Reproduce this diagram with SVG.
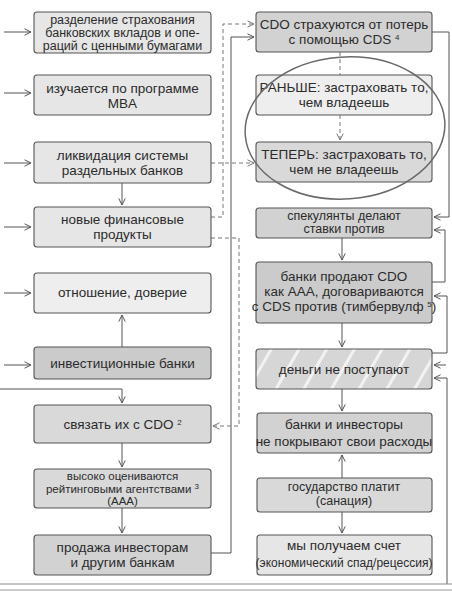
<svg xmlns="http://www.w3.org/2000/svg" width="452" height="596" viewBox="0 0 452 596">
<defs>
<style>
.box{stroke:#555;stroke-width:1.1}
.l1{fill:#eeeeee}.l2{fill:#e6e6e6}.m1{fill:#d9d9d9}.m2{fill:#d2d2d2}.d1{fill:#cbcbcb}
text{font-family:"Liberation Sans Narrow","Liberation Sans",Arial,sans-serif;font-size:13.5px;fill:#2b2b2b;text-anchor:middle}
.s3{font-size:12.5px}
.sm{font-size:12px}
.s8{font-size:11.5px}
.sup{font-size:8px}
.c{fill:none;stroke:#555;stroke-width:1}
.dsh{fill:none;stroke:#777;stroke-width:1;stroke-dasharray:4 3}
</style>
<marker id="ah" viewBox="0 0 8 8" refX="7.5" refY="4" markerWidth="8" markerHeight="8" markerUnits="userSpaceOnUse" orient="auto">
<path d="M1,0.8 L7.5,4 L1,7.2" fill="none" stroke="#555" stroke-width="1"/>
</marker>
<marker id="ahd" viewBox="0 0 8 8" refX="7.5" refY="4" markerWidth="8" markerHeight="8" markerUnits="userSpaceOnUse" orient="auto">
<path d="M1,0.8 L7.5,4 L1,7.2" fill="none" stroke="#777" stroke-width="1"/>
</marker>
<pattern id="hatch" width="24" height="24" patternUnits="userSpaceOnUse" patternTransform="rotate(30)">
<rect width="24" height="24" fill="#d6d6d6"/>
<rect x="0" y="0" width="3" height="24" fill="#f2f2f2"/>
</pattern>
</defs>
<rect width="452" height="596" fill="#ffffff"/>

<g id="connectors">
<line class="c" x1="4" y1="32" x2="31" y2="32" marker-end="url(#ah)"/>
<line class="c" x1="4" y1="93" x2="31" y2="93" marker-end="url(#ah)"/>
<line class="c" x1="4" y1="163" x2="31" y2="163" marker-end="url(#ah)"/>
<line class="c" x1="4" y1="227" x2="31" y2="227" marker-end="url(#ah)"/>
<line class="c" x1="4" y1="293" x2="31" y2="293" marker-end="url(#ah)"/>
<line class="c" x1="4" y1="365" x2="31" y2="365" marker-end="url(#ah)"/>
<line class="c" x1="122" y1="183" x2="122" y2="205" marker-end="url(#ah)"/>
<line class="c" x1="122" y1="347" x2="122" y2="315" marker-end="url(#ah)"/>
<path class="c" d="M0,389 H122 V403" marker-end="url(#ah)"/>
<line class="c" x1="122" y1="443" x2="122" y2="467" marker-end="url(#ah)"/>
<line class="c" x1="122" y1="508" x2="122" y2="533" marker-end="url(#ah)"/>
<path class="dsh" d="M211,217 H223 V24 H254" marker-end="url(#ahd)"/>
<path class="c" d="M211,553 H231 V37 H254" marker-end="url(#ah)"/>
<path class="dsh" d="M211,163 H254" marker-end="url(#ahd)"/>
<path class="dsh" d="M211,238 H239 V426 H213" marker-end="url(#ahd)"/>
<line class="dsh" x1="340" y1="52" x2="340" y2="75"/>
<line class="dsh" x1="340" y1="115" x2="340" y2="140" marker-end="url(#ahd)"/>
<line class="c" x1="342" y1="238" x2="342" y2="260" marker-end="url(#ah)"/>
<line class="c" x1="342" y1="323" x2="342" y2="347" marker-end="url(#ah)"/>
<line class="c" x1="342" y1="389" x2="342" y2="411" marker-end="url(#ah)"/>
<line class="c" x1="342" y1="478" x2="342" y2="455" marker-end="url(#ah)"/>
<line class="c" x1="342" y1="512" x2="342" y2="533" marker-end="url(#ah)"/>
<path class="c" d="M432,32 H449 V217 H434" marker-end="url(#ah)"/>
<path class="c" d="M432,282 H445 V230 H434" marker-end="url(#ah)"/>
<path class="c" d="M432,353 H447 V296 H434" marker-end="url(#ah)"/>
<line class="c" x1="446" y1="365" x2="434" y2="365" marker-end="url(#ah)"/>
<path class="c" d="M447,584 V378 H434" marker-end="url(#ah)"/>
<line x1="0" y1="584" x2="452" y2="584" stroke="#888" stroke-width="1"/>
<line x1="0" y1="590" x2="452" y2="590" stroke="#999" stroke-width="1"/>
</g>

<g id="n1"><rect class="box l2" x="34" y="12" width="177" height="41" rx="3"/>
<text class="s3" x="122.5" y="24">разделение страхования</text>
<text class="s3" x="122.5" y="37">банковских вкладов и опе-</text>
<text class="s3" x="122.5" y="50">раций с ценными бумагами</text></g>
<g id="n2"><rect class="box l2" x="34" y="75" width="177" height="40" rx="3"/>
<text x="122.5" y="93">изучается по программе</text>
<text x="122.5" y="108">MBA</text></g>
<g id="n3"><rect class="box l2" x="34" y="142" width="177" height="41" rx="3"/>
<text x="122.5" y="160">ликвидация системы</text>
<text x="122.5" y="175">раздельных банков</text></g>
<g id="n4"><rect class="box l2" x="34" y="207" width="177" height="40" rx="3"/>
<text x="122.5" y="224">новые финансовые</text>
<text x="122.5" y="239">продукты</text></g>
<g id="n5"><rect class="box l1" x="34" y="273" width="177" height="40" rx="3"/>
<text x="122.5" y="297">отношение, доверие</text></g>
<g id="n6"><rect class="box d1" x="34" y="347" width="177" height="32" rx="3"/>
<text x="122.5" y="368">инвестиционные банки</text></g>
<g id="n7"><rect class="box m1" x="34" y="405" width="177" height="38" rx="3"/>
<text x="122.5" y="429">связать их с CDO <tspan class="sup" baseline-shift="super">2</tspan></text></g>
<g id="n8"><rect class="box m1" x="34" y="469" width="177" height="39" rx="3"/>
<text class="s8" x="122.5" y="480">высоко оцениваются</text>
<text class="s8" x="122.5" y="492.5">рейтинговыми агентствами <tspan class="sup" baseline-shift="super">3</tspan></text>
<text class="s8" x="122.5" y="505">(AAA)</text></g>
<g id="n9"><rect class="box m2" x="34" y="535" width="177" height="40" rx="3"/>
<text x="122.5" y="552">продажа инвесторам</text>
<text x="122.5" y="567">и другим банкам</text></g>

<g id="r1"><rect class="box m2" x="256" y="12" width="176" height="40" rx="3"/>
<text x="344" y="29">CDO страхуются от потерь</text>
<text x="344" y="44">с помощью CDS <tspan class="sup" baseline-shift="super">4</tspan></text></g>
<g id="r2"><rect class="box l1" x="256" y="75" width="176" height="40" rx="3"/>
<text x="344" y="92">РАНЬШЕ: застраховать то,</text>
<text x="344" y="107">чем владеешь</text></g>
<g id="r3"><rect class="box m1" x="256" y="142" width="176" height="40" rx="3"/>
<text x="344" y="159">ТЕПЕРЬ: застраховать то,</text>
<text x="344" y="174">чем не владеешь</text></g>
<g id="r4"><rect class="box m2" x="256" y="208" width="176" height="30" rx="3"/>
<text class="s3" x="344" y="220">спекулянты делают</text>
<text class="s3" x="344" y="233">ставки против</text></g>
<g id="r5"><rect class="box d1" x="256" y="262" width="176" height="61" rx="3"/>
<text x="344" y="281">банки продают CDO</text>
<text x="344" y="296">как AAA, договариваются</text>
<text x="344" y="311">с CDS против (тимбервулф <tspan class="sup" baseline-shift="super">5</tspan>)</text></g>
<g id="r6"><rect class="box" x="256" y="349" width="176" height="40" rx="3" fill="url(#hatch)"/>
<text x="344" y="374">деньги не поступают</text></g>
<g id="r7"><rect class="box m2" x="257" y="413" width="175" height="40" rx="3"/>
<text x="344" y="429">банки и инвесторы</text>
<text x="344" y="446">не покрывают свои расходы</text></g>
<g id="r8"><rect class="box m1" x="257" y="478" width="175" height="34" rx="3"/>
<text class="s3" x="344" y="491">государство платит</text>
<text class="s3" x="344" y="505">(санация)</text></g>
<g id="r9"><rect class="box l2" x="257" y="535" width="175" height="40" rx="3"/>
<text x="344" y="550">мы получаем счет</text>
<text class="sm" x="344" y="567">(экономический спад/рецессия)</text></g>

<g id="circle"><ellipse cx="345" cy="128" rx="100" ry="71" transform="rotate(-4 345 128)" fill="none" stroke="#6a6a6a" stroke-width="1.5"/></g>
</svg>
